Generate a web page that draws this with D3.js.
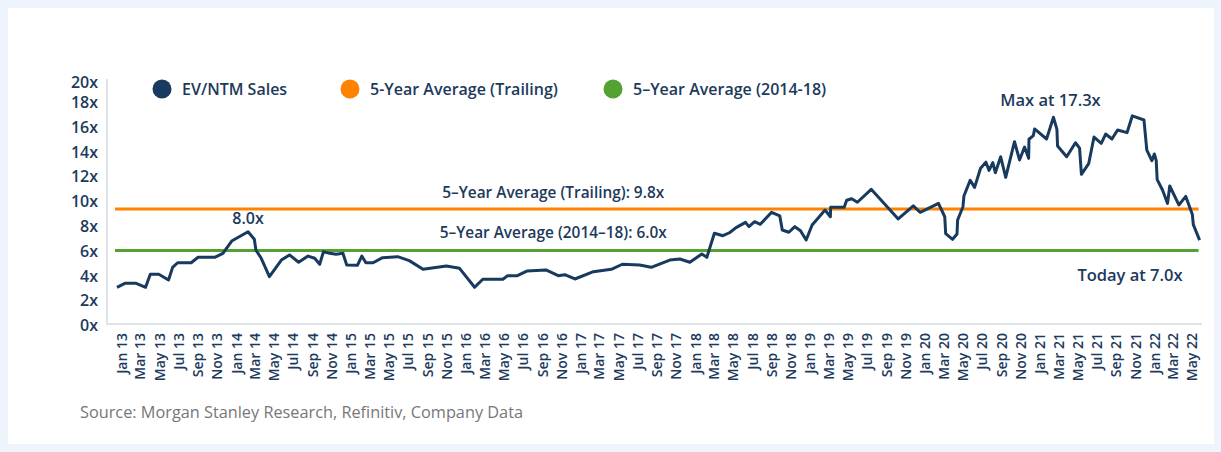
<!DOCTYPE html>
<html>
<head>
<meta charset="utf-8">
<script src="https://cdn.jsdelivr.net/npm/d3@7"></script>
<style>
  body { margin: 0; background: #edf4fb; font-family: "Open Sans", sans-serif; }
  svg { display: block; }
</style>
</head>
<body>
<div id="chart"></div>
<script>
var svgWidth = 1221;
var svgHeight = 452;

// EV/NTM sales multiple
var dates = [
  "2013-01-01","2013-01-26","2013-03-03","2013-04-02","2013-04-17","2013-05-14","2013-06-14","2013-06-27",
  "2013-07-13","2013-08-25","2013-09-16","2013-11-08","2013-12-04","2014-01-01","2014-02-22","2014-03-14",
  "2014-03-19","2014-04-05","2014-05-01","2014-06-08","2014-07-04","2014-08-02","2014-09-01","2014-09-22",
  "2014-10-08","2014-10-20","2014-11-09","2014-11-29","2014-12-21","2015-01-02","2015-02-05","2015-02-19",
  "2015-03-04","2015-03-27","2015-04-26","2015-06-13","2015-07-20","2015-09-02","2015-11-15","2015-12-27",
  "2016-02-13","2016-03-10","2016-05-13","2016-05-28","2016-06-28","2016-07-28","2016-09-27","2016-11-05",
  "2016-11-26","2016-12-28","2017-02-25","2017-04-23","2017-05-28","2017-07-22","2017-08-28","2017-10-26",
  "2017-11-27","2017-12-29","2018-02-05","2018-02-21","2018-03-17","2018-04-13","2018-05-04","2018-05-25",
  "2018-06-24","2018-07-05","2018-07-23","2018-08-10","2018-09-15","2018-10-11","2018-10-19","2018-11-09",
  "2018-11-28","2018-12-16","2019-01-03","2019-01-22","2019-02-11","2019-03-04","2019-03-21","2019-03-22",
  "2019-05-04","2019-05-12","2019-05-28","2019-06-15","2019-07-29","2019-10-23","2019-12-10","2020-01-01",
  "2020-02-28","2020-03-19","2020-03-22","2020-04-13","2020-04-27","2020-04-29","2020-05-16","2020-05-19",
  "2020-06-08","2020-06-22","2020-07-11","2020-07-28","2020-08-07","2020-08-19","2020-08-27","2020-09-13",
  "2020-09-29","2020-10-27","2020-11-12","2020-11-28","2020-12-11","2020-12-12","2020-12-26","2020-12-30",
  "2021-02-06","2021-02-28","2021-03-11","2021-03-13","2021-04-11","2021-05-09","2021-05-22","2021-05-28",
  "2021-06-20","2021-07-07","2021-07-30","2021-08-13","2021-09-02","2021-09-20","2021-10-20","2021-11-06",
  "2021-12-13","2021-12-22","2022-01-07","2022-01-15","2022-01-21","2022-01-24","2022-02-10","2022-02-26",
  "2022-03-05","2022-04-03","2022-04-25","2022-05-16","2022-05-19","2022-06-08"
];
var evSales = [
  3.04,3.36,3.36,3.04,4.09,4.09,3.63,4.65,
  5.02,5.02,5.46,5.46,5.78,6.77,7.52,6.91,
  6.05,5.38,3.90,5.24,5.65,5.06,5.56,5.38,
  4.90,5.91,5.78,5.70,5.78,4.84,4.81,5.56,
  5.02,5.02,5.43,5.51,5.19,4.49,4.76,4.57,
  3.04,3.69,3.69,3.98,3.98,4.35,4.44,3.98,
  4.06,3.71,4.30,4.49,4.90,4.84,4.65,5.24,
  5.32,5.06,5.73,5.46,7.40,7.20,7.44,7.85,
  8.28,7.93,8.33,8.12,9.09,8.81,7.66,7.48,
  7.93,7.60,6.85,8.06,8.65,9.27,8.73,9.49,
  9.49,10.06,10.18,9.90,10.94,8.55,9.61,9.09,
  9.81,8.73,7.37,6.91,7.34,8.47,9.54,10.40,
  11.67,11.10,12.64,13.13,12.47,13.09,12.28,13.57,
  11.91,14.78,13.31,14.35,13.44,14.98,15.28,15.81,
  15.00,16.75,15.78,14.44,13.57,14.70,14.27,12.15,
  13.01,15.16,14.65,15.40,15.00,15.73,15.51,16.87,
  16.53,14.11,13.25,13.79,13.25,11.72,10.89,9.81,
  11.21,9.68,10.37,8.91,8.09,6.85
];

// reference lines (drawn positions) and their labels
var avgNames = ["5-Year Average (Trailing)", "5\u2013Year Average (2014-18)"];
var avgValues = [9.35, 6.0];
var avgLabels = ["5\u2013Year Average (Trailing): 9.8x", "5\u2013Year Average (2014\u201318): 6.0x"];
var yTicks = [0, 2, 4, 6, 8, 10, 12, 14, 16, 18, 20];
var seriesNames = ["EV/NTM Sales"].concat(avgNames);

var navy = "#173a5e";
var textColor = "#1d3a5c";
var colors = [navy, "#ff8300", "#53a232"];

var parse = d3.utcParse("%Y-%m-%d");
var data = dates.map(function (d, i) {
  return { date: parse(d), value: evSales[i] };
});

var svg = d3.select("#chart")
  .append("svg")
  .attr("width", svgWidth)
  .attr("height", svgHeight);

// white card
svg.append("rect")
  .attr("x", 8).attr("y", 8)
  .attr("width", 1206).attr("height", 436)
  .attr("fill", "#ffffff");

var x = d3.scaleUtc()
  .domain([parse("2013-01-01"), parse("2022-06-08")])
  .range([117, 1199.6]);

var y = d3.scaleLinear()
  .domain([0, 20])
  .range([325, 77]);

// axis lines
svg.append("line")
  .attr("x1", 107).attr("x2", 107)
  .attr("y1", 79).attr("y2", 325)
  .attr("stroke", "#dfe4ea").attr("stroke-width", 2);
svg.append("line")
  .attr("x1", 107).attr("x2", 1202)
  .attr("y1", 324).attr("y2", 324)
  .attr("stroke", "#dfe4ea").attr("stroke-width", 2);

// y axis
var yAxis = svg.append("g")
  .attr("transform", "translate(107,0)")
  .call(d3.axisLeft(y).tickValues(yTicks).tickSize(0).tickPadding(9)
    .tickFormat(function (d) { return d + "x"; }));
yAxis.select(".domain").remove();
yAxis.selectAll("text")
  .attr("fill", textColor)
  .style("font-family", "Open Sans")
  .style("font-size", "16px")
  .style("font-weight", 600)
  .attr("dy", function (d) { return d === 20 ? "0.65em" : "0.35em"; });

// x axis, one label every two months
var tickDates = d3.utcMonth.every(2)
  .range(parse("2013-01-01"), parse("2022-06-01"))
  .map(function (d) { return d3.utcDay.offset(d, 14); });

var xAxis = svg.append("g")
  .attr("transform", "translate(0,324)")
  .call(d3.axisBottom(x).tickValues(tickDates).tickSize(0)
    .tickFormat(d3.utcFormat("%b %y")));
xAxis.select(".domain").remove();
xAxis.selectAll("text")
  .attr("transform", "rotate(-90)")
  .attr("x", -9)
  .attr("y", 0)
  .attr("dy", "0.35em")
  .attr("text-anchor", "end")
  .attr("fill", textColor)
  .style("font-family", "Open Sans")
  .style("font-size", "14px")
  .style("font-weight", 600);

// average lines
avgValues.forEach(function (v, i) {
  svg.append("line")
    .attr("x1", 115).attr("x2", x.range()[1] - 1)
    .attr("y1", y(v)).attr("y2", y(v))
    .attr("stroke", colors[i + 1])
    .attr("stroke-width", 3);
});

// main series
var line = d3.line()
  .x(function (d) { return x(d.date); })
  .y(function (d) { return y(d.value); });

svg.append("path")
  .datum(data)
  .attr("d", line)
  .attr("fill", "none")
  .attr("stroke", navy)
  .attr("stroke-width", 3)
  .attr("stroke-linejoin", "round");

// annotations
var annot = svg.append("g")
  .attr("fill", textColor)
  .style("font-family", "Open Sans")
  .style("font-size", "16.5px")
  .style("font-weight", 600);

var peak14 = data[14];
annot.append("text")
  .attr("x", x(peak14.date))
  .attr("y", y(peak14.value) - 8)
  .attr("text-anchor", "middle")
  .style("font-size", "16px")
  .text("8.0x");

var maxPt = data[113];
annot.append("text")
  .attr("x", x(maxPt.date) - 3)
  .attr("y", y(maxPt.value) - 11)
  .attr("text-anchor", "middle")
  .text("Max at 17.3x");

var last = data[data.length - 1];
annot.append("text")
  .attr("x", x(last.date) - 17)
  .attr("y", y(last.value) + 41)
  .attr("text-anchor", "end")
  .text("Today at 7.0x");

annot.selectAll(".avgLabel")
  .data(avgValues)
  .enter()
  .append("text")
  .attr("class", "avgLabel")
  .attr("x", x(parse("2016-10-20")))
  .attr("y", function (d, i) { return y(d) - (i === 0 ? 11 : 13); })
  .attr("text-anchor", "middle")
  .style("font-size", "15.4px")
  .text(function (d, i) { return avgLabels[i]; });

// legend
var legendX = [162, 350, 613];
var legend = svg.selectAll(".legend")
  .data(seriesNames)
  .enter()
  .append("g")
  .attr("class", "legend")
  .attr("transform", function (d, i) { return "translate(" + legendX[i] + ",89)"; });

legend.append("circle")
  .attr("r", 9.5)
  .attr("fill", function (d, i) { return colors[i]; });

legend.append("text")
  .attr("x", 20)
  .attr("dy", "0.35em")
  .attr("fill", textColor)
  .style("font-family", "Open Sans")
  .style("font-size", "16px")
  .style("font-weight", 600)
  .text(function (d) { return d; });

// source note
svg.append("text")
  .attr("x", 80)
  .attr("y", 418)
  .attr("fill", "#777777")
  .style("font-family", "Open Sans")
  .style("font-size", "16.3px")
  .text("Source: Morgan Stanley Research, Refinitiv, Company Data");
</script>
</body>
</html>
